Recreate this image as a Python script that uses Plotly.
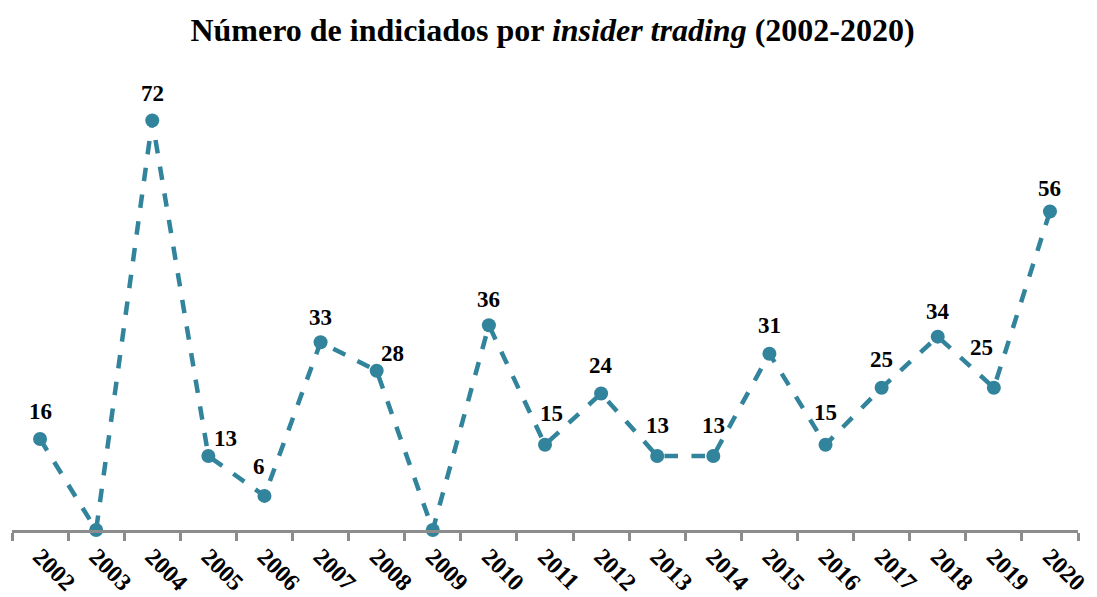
import plotly.graph_objects as go

years = [str(y) for y in range(2002, 2021)]
indiciados = [16, 0, 72, 13, 6, 33, 28, 0, 36, 15, 24, 13, 13, 31, 15, 25, 34, 25, 56]

# label offsets (px) from each point, as placed in the original
label_dx = [0, 0, 0, 17, -5, 0, 16, 0, 0, 6, 0, 0, 0, 0, 0, 0, 0, -12, 0]
label_dy = [28, 0, 27, 18, 29, 25, 17, 0, 26, 31, 28, 31, 31, 28, 32, 28, 25, 40, 23]

fig = go.Figure()
fig.add_trace(go.Scatter(
    x=years, y=indiciados,
    mode="lines+markers",
    line=dict(color="#31849B", width=4.5, dash="dash"),
    marker=dict(color="#31849B", size=14),
    cliponaxis=False,
    hoverinfo="x+y",
))

# zero values carry no label in the original
# (category axis: annotations need the category index, "2002" would be read as a number)
for i, (v, dx, dy) in enumerate(zip(indiciados, label_dx, label_dy)):
    if v == 0:
        continue
    fig.add_annotation(
        x=i, y=v, text=f"<b>{v}</b>", showarrow=False,
        xshift=dx, yshift=dy, xanchor="center", yanchor="middle",
        font=dict(family="Liberation Serif", size=23, color="black"),
    )

# page body has an 8px margin, so the figure is a bit smaller than the window
fig.update_layout(
    width=1089, height=589,
    margin=dict(l=4, r=19, t=67, b=67),
    paper_bgcolor="white", plot_bgcolor="white",
    showlegend=False,
    font=dict(family="Liberation Serif", color="black"),
    title=dict(
        text="<b>Número de indiciados por <i>insider trading</i> (2002-2020)</b>",
        x=0.5, xanchor="center", y=0.982, yanchor="top",
        font=dict(family="Liberation Serif", size=32, color="black"),
    ),
)
fig.update_xaxes(
    type="category", range=[-0.5, len(years) - 0.5], automargin=False,
    showline=True, linecolor="#8c8c8c", linewidth=3,
    ticks="outside", tickson="boundaries", ticklen=8, tickwidth=3, tickcolor="#8c8c8c",
    tickangle=45,
    tickfont=dict(family="Liberation Serif", size=24, color="black"),
    ticktext=[f"<b>{y}</b>" for y in years], tickvals=years,
    showgrid=False, zeroline=False,
)
fig.update_yaxes(range=[0, 80], visible=False, showgrid=False, zeroline=False, automargin=False)

fig.write_html("out.html")
